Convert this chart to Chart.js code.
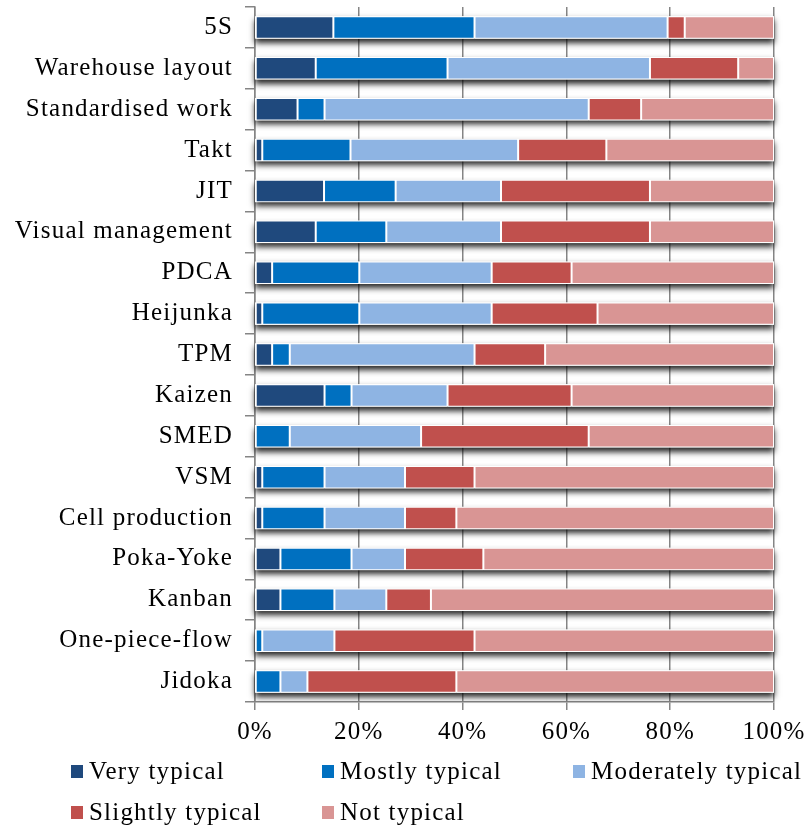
<!DOCTYPE html>
<html>
<head>
<meta charset="utf-8">
<script src="https://cdn.jsdelivr.net/npm/chart.js@4.4.1/dist/chart.umd.min.js"></script>
<style>
  body { margin: 0; background: #fff; }
  #wrap { position: relative; width: 808px; height: 826px; }
  .legend-item {
    position: absolute; display: flex; align-items: center; height: 30px;
    font-family: "Liberation Serif", "Times New Roman", serif; font-size: 25px;
    letter-spacing: 1.2px; color: #000; white-space: nowrap;
  }
  .legend-item span.box { width: 12px; height: 13px; margin-right: 6px; }
</style>
</head>
<body>
<div id="wrap">
  <canvas id="chart"></canvas>
  <div id="legend"></div>
</div>
<script>
// Rows, top to bottom
const categories = ["5S", "Warehouse layout", "Standardised work", "Takt", "JIT",
  "Visual management", "PDCA", "Heijunka", "TPM", "Kaizen", "SMED", "VSM",
  "Cell production", "Poka-Yoke", "Kanban", "One-piece-flow", "Jidoka"];

// Share of answers per category (%)
const veryTypical       = [15.1, 11.7, 8.2, 1.4, 13.3, 11.7, 3.3, 1.4, 3.3, 13.4, 0, 1.4, 1.4, 4.9, 4.9, 0, 0];
const mostlyTypical     = [27.2, 25.4, 5.2, 17.0, 13.8, 13.6, 16.8, 18.7, 3.4, 5.2, 6.7, 12.0, 12.0, 13.7, 10.4, 1.4, 4.9];
const moderatelyTypical = [37.2, 39.0, 50.9, 32.3, 20.3, 22.1, 25.5, 25.5, 35.6, 18.5, 25.3, 15.5, 15.5, 10.3, 10.0, 13.9, 5.2];
const slightlyTypical   = [3.3, 17.0, 10.1, 17.0, 28.7, 28.7, 15.4, 20.4, 13.6, 23.9, 32.3, 13.4, 9.9, 15.1, 8.6, 27.0, 28.7];
const notTypical        = [17.2, 6.9, 25.6, 32.3, 23.9, 23.9, 39.0, 34.0, 44.1, 39.0, 35.7, 57.7, 61.2, 56.0, 66.1, 57.7, 61.2];

const seriesNames = ["Very typical", "Mostly typical", "Moderately typical", "Slightly typical", "Not typical"];
const seriesColors = ["#1F497D", "#0070C0", "#8EB4E3", "#C0504D", "#D99594"];
const seriesData = [veryTypical, mostlyTypical, moderatelyTypical, slightlyTypical, notTypical];

const xTicks = [0, 20, 40, 60, 80, 100];

const serif = "'Liberation Serif', 'Times New Roman', serif";
const gridGrey = "#858585";

// Excel draws a soft drop shadow under every bar row
const barShadow = {
  id: "barShadow",
  beforeDatasetsDraw(chart) {
    const ctx = chart.ctx;
    const xs = chart.scales.x;
    const left = xs.getPixelForValue(xTicks[0]);
    const right = xs.getPixelForValue(xTicks[xTicks.length - 1]);
    ctx.save();
    ctx.shadowColor = "rgba(0,0,0,0.85)";
    ctx.shadowBlur = 6;
    ctx.shadowOffsetY = 4;
    ctx.fillStyle = "#fff";
    chart.getDatasetMeta(0).data.forEach(bar => {
      ctx.fillRect(left, bar.y - bar.height / 2, right - left, bar.height);
    });
    ctx.restore();
  }
};

// the original text is a little wider than Liberation Serif
const spacing = {
  id: "spacing",
  beforeUpdate(chart) { chart.ctx.letterSpacing = "1.2px"; },
  beforeDraw(chart) { chart.ctx.letterSpacing = "1.2px"; }
};

const ctx = document.getElementById("chart").getContext("2d");
new Chart(ctx, {
  type: "bar",
  data: {
    labels: categories,
    datasets: seriesData.map((d, i) => ({
      label: seriesNames[i],
      data: d,
      backgroundColor: seriesColors[i],
      borderColor: "#fff",
      borderWidth: 1,
      borderSkipped: false,
      categoryPercentage: 1,
      barPercentage: 0.55
    }))
  },
  options: {
    indexAxis: "y",
    responsive: true,
    maintainAspectRatio: false,
    animation: false,
    layout: { padding: { left: 0, right: 34, top: 7, bottom: 64 } },
    plugins: {
      legend: { display: false },
      tooltip: { enabled: false }
    },
    scales: {
      x: {
        stacked: true,
        min: 0,
        max: 100,
        afterBuildTicks(scale) { scale.ticks = xTicks.map(v => ({ value: v })); },
        afterFit(scale) {
          scale.height = 60;
          scale.paddingLeft = 0;
          scale.paddingRight = 0;
        },
        grid: { color: gridGrey, lineWidth: 1.5, tickLength: 8 },
        border: { color: gridGrey, width: 1.5 },
        ticks: {
          color: "#000",
          padding: 7,
          maxRotation: 0,
          font: { family: serif, size: 25 },
          callback: v => v + "%"
        }
      },
      y: {
        stacked: true,
        afterFit(scale) {
          scale.width = 255;
          scale.paddingTop = 0;
          scale.paddingBottom = 0;
        },
        grid: { offset: true, drawOnChartArea: false, tickLength: 10, color: gridGrey, lineWidth: 1.5 },
        border: { color: gridGrey, width: 1.5 },
        ticks: {
          color: "#000",
          padding: 12,
          autoSkip: false,
          font: { family: serif, size: 25 }
        }
      }
    }
  },
  plugins: [barShadow, spacing]
});

// Legend laid out in fixed columns like the original
const legendPos = [[71, 756], [322, 756], [573, 756], [71, 797], [322, 797]];
const legend = document.getElementById("legend");
seriesNames.forEach((name, i) => {
  const item = document.createElement("div");
  item.className = "legend-item";
  item.style.left = legendPos[i][0] + "px";
  item.style.top = legendPos[i][1] + "px";
  item.innerHTML = '<span class="box" style="background:' + seriesColors[i] + '"></span>' + name;
  legend.appendChild(item);
});
</script>
</body>
</html>
